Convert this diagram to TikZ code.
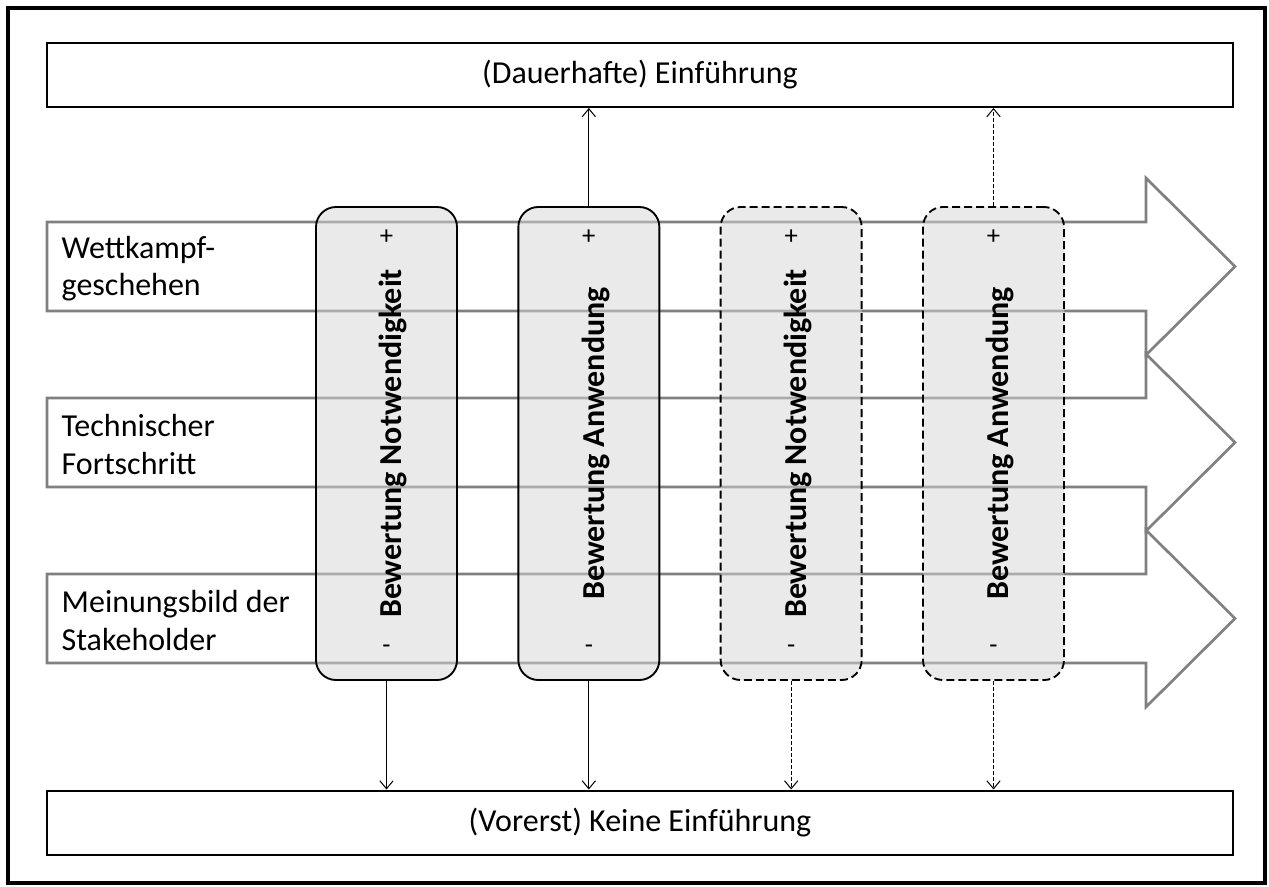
\documentclass[tikz,border=0pt]{standalone}
\usepackage{fontspec}
\setmainfont{Carlito}
\usetikzlibrary{arrows.meta}

\begin{document}
\begin{tikzpicture}[x=0.75pt,y=-0.75pt,
  ziel/.style={draw, line width=1.5pt, minimum width=889.5pt, minimum height=48pt, font=\fontsize{24}{29}\selectfont},
  bew/.style={draw, line width=1.4pt, rounded corners=15pt, fill=black!16, fill opacity=0.5, text opacity=1, minimum width=105.75pt, minimum height=354.75pt},
  offen/.style={bew, dash pattern=on 6pt off 3pt},
  titel/.style={font=\fontsize{24}{29}\selectfont\bfseries, rotate=90, yshift=-5pt},
  zeichen/.style={font=\fontsize{20}{24}\selectfont},
  faktor/.style={anchor=west, align=left, font=\fontsize{24}{28}\selectfont},
  pfeil/.style={-{Straight Barb[length=6pt,width=10pt]}, line width=0.75pt},
  strich/.style={pfeil, dash pattern=on 3pt off 1.5pt}]
\useasboundingbox (0,0) rectangle (1269,886);
\draw[line width=3pt] (8,8) rectangle (1265,883);
% Einflussfaktoren
\foreach \y in {266.5,442.5,618.5}
  \draw[gray, line width=2pt, line join=miter]
    (47,\y-44.5) -- (1146,\y-44.5) -- (1146,\y-88.5) -- (1235,\y)
    -- (1146,\y+88.5) -- (1146,\y+44.5) -- (47,\y+44.5) -- cycle;
\node(w)[faktor] at (57,268.5) {Wettkampf-\\geschehen};
\node(t)[faktor] at (57,444.5) {Technischer\\Fortschritt};
\node(m)[faktor] at (57,620.5) {Meinungsbild der\\Stakeholder};
% Ergebnisse
\node(top)[ziel] at (640,75) {(Dauerhafte) Einführung};
\node(bot)[ziel] at (640,822.5) {(Vorerst) Keine Einführung};
% Bewertungen
\matrix [column sep=44.6pt] at (690,443.5) {
\node(a)[bew]{}; & \node(b)[bew]{}; & \node(c)[offen]{}; & \node(d)[offen]{}; \\
};
\node(at)[titel] at (a) {Bewertung Notwendigkeit};
\node(bt)[titel] at (b) {Bewertung Anwendung};
\node(ct)[titel] at (c) {Bewertung Notwendigkeit};
\node(dt)[titel] at (d) {Bewertung Anwendung};
\foreach \n in {a,b,c,d} {
  \node(\n p)[zeichen] at ([yshift=-23pt]\n.north) {+};
  \node(\n m)[zeichen] at ([yshift=24pt]\n.south) {-};
}
\draw[pfeil] (b.north) -- (b.north |- top.south);
\draw[strich] (d.north) -- (d.north |- top.south);
\draw[pfeil] (a.south) -- (a.south |- bot.north);
\draw[pfeil] (b.south) -- (b.south |- bot.north);
\draw[strich] (c.south) -- (c.south |- bot.north);
\draw[strich] (d.south) -- (d.south |- bot.north);
\end{tikzpicture}
\end{document}
